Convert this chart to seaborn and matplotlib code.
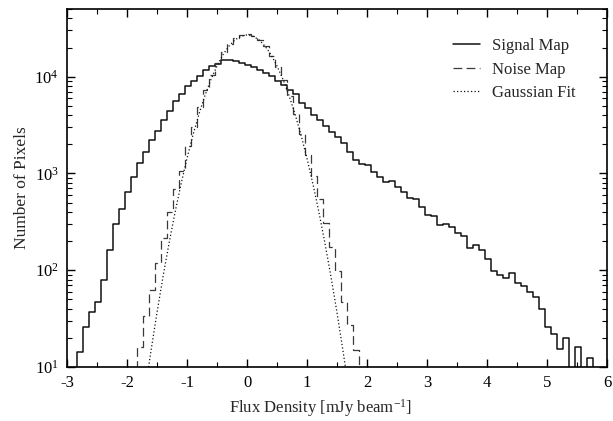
import numpy as np
import pandas as pd
import matplotlib
matplotlib.use("Agg")
import matplotlib.pyplot as plt
import seaborn as sns
from matplotlib.lines import Line2D
from matplotlib.ticker import MultipleLocator, LogLocator, NullFormatter

# ---------------- data ----------------
bin_start = -2.83     # left edge of first signal bin [mJy/beam]
bin_width = 0.1

signal_counts = [14.4, 25.7, 37.3, 46.7, 79, 160, 301, 428, 641, 922,
                 1276, 1684, 2222, 2753, 3524, 4406, 5544, 6653, 8050, 9070,
                 10200, 11580, 12740, 13490, 14700, 14950, 14600, 13800, 13200, 12450,
                 11580, 10870, 10040, 9070, 8230, 7330, 6600, 5400, 4700, 4040,
                 3550, 3110, 2710, 2370, 2056, 1684, 1380, 1257, 1227, 1031,
                 915, 812, 839, 721, 650, 555, 541, 447, 373, 364,
                 294, 299, 282, 241, 228, 169, 183, 162, 130, 99,
                 90, 84, 93, 73, 69, 59, 53, 40, 26, 22,
                 15.5, 19.8, 0, 16, 0, 12.3]

noise_first_bin = 10  # noise histogram starts at the 11th bin
noise_counts = [16, 34, 63, 119, 214, 400, 689, 1050, 1900, 3000,
                4900, 7300, 10300, 13900, 17800, 21500, 24800, 26800, 27500, 26200,
                24000, 20500, 16500, 12700, 9200, 6300, 4100, 2570, 1556, 944,
                542, 306, 173, 97, 47, 27, 15]

gauss_x = [-1.7, -1.6, -1.5, -1.4, -1.3, -1.2, -1.1, -1.0, -0.9, -0.8, -0.7, -0.6,
           -0.5, -0.4, -0.3, -0.2, -0.1, 0.0, 0.1, 0.2, 0.3, 0.4, 0.5, 0.6,
           0.7, 0.8, 0.9, 1.0, 1.1, 1.2, 1.3, 1.4, 1.5, 1.6, 1.7]
gauss_y = [5.6, 14.7, 36.5, 85.5, 189, 394, 773, 1430, 2500, 4120, 6400, 9380,
           12900, 16900, 20700, 24000, 26200, 27000, 26200, 24000, 20700, 16900, 12900, 9380,
           6400, 4120, 2500, 1430, 773, 394, 189, 85.5, 36.5, 14.7, 5.6]

legend_labels = ["Signal Map", "Noise Map", "Gaussian Fit"]

# ---------------- style ----------------
sns.set_theme(style="ticks")
plt.rcParams["font.family"] = ["Liberation Serif", "DejaVu Serif"]
plt.rcParams["mathtext.fontset"] = "custom"
plt.rcParams["mathtext.rm"] = "Liberation Serif"
plt.rcParams["mathtext.it"] = "Liberation Serif:italic"
plt.rcParams["axes.unicode_minus"] = False

fig = plt.figure(figsize=(6.13, 4.21), dpi=100)
ax = fig.add_axes([67 / 613, 54 / 421, 540 / 613, 358 / 421])


def padded_hist(counts, first_index):
    c = [0.0] + list(counts) + [0.0]
    n = len(c)
    left = bin_start + bin_width * (first_index - 1)
    edges = left + bin_width * np.arange(n + 1)
    centers = edges[:-1] + bin_width / 2
    df = pd.DataFrame({"flux": centers, "count": np.array(c, dtype=float)})
    return df, list(edges)


sig_df, sig_edges = padded_hist(signal_counts, 0)
noi_df, noi_edges = padded_hist(noise_counts, noise_first_bin)

sns.histplot(data=sig_df, x="flux", weights="count", bins=sig_edges,
             element="step", fill=False, color="#111111", linewidth=1.1, ax=ax)
sns.histplot(data=noi_df, x="flux", weights="count", bins=noi_edges,
             element="step", fill=False, color="#3a3a3a", linewidth=0.9,
             linestyle=(0, (7, 3.5)), ax=ax)
sns.lineplot(x=gauss_x, y=gauss_y, color="#111111", linewidth=0.9,
             linestyle=(0, (1, 1.8)), ax=ax)

ax.set_yscale("log")
ax.set_xlim(-3, 6)
ax.set_ylim(10, 5e4)

ax.xaxis.set_major_locator(MultipleLocator(1))
ax.xaxis.set_minor_locator(MultipleLocator(0.5))
ax.yaxis.set_major_locator(LogLocator(base=10, numticks=10))
ax.yaxis.set_minor_locator(LogLocator(base=10, subs=np.arange(2, 10), numticks=20))
ax.yaxis.set_minor_formatter(NullFormatter())

ax.tick_params(which="both", direction="in", top=True, right=True,
               colors="black", labelsize=12)
ax.tick_params(which="major", length=6, width=1.0, pad=6)
ax.tick_params(which="minor", length=3.5, width=0.8)
for s in ax.spines.values():
    s.set_linewidth(1.2)
    s.set_color("black")

ax.set_xlabel("Flux Density [mJy beam$^{-1}$]", fontsize=12, labelpad=3)
ax.xaxis.set_label_coords(0.47, -0.085)
ax.set_ylabel("Number of Pixels", fontsize=12.5, labelpad=3)

handles = [Line2D([], [], color="#111111", lw=1.1),
           Line2D([], [], color="#3a3a3a", lw=0.9, ls=(0, (7, 3.5))),
           Line2D([], [], color="#111111", lw=0.9, ls=(0, (1, 1.8)))]
ax.legend(handles, legend_labels, loc="upper right", frameon=False,
          fontsize=12, handlelength=1.6, handletextpad=0.75, labelspacing=0.45,
          bbox_to_anchor=(0.97, 0.96))

fig.savefig("out.png", dpi=100)
